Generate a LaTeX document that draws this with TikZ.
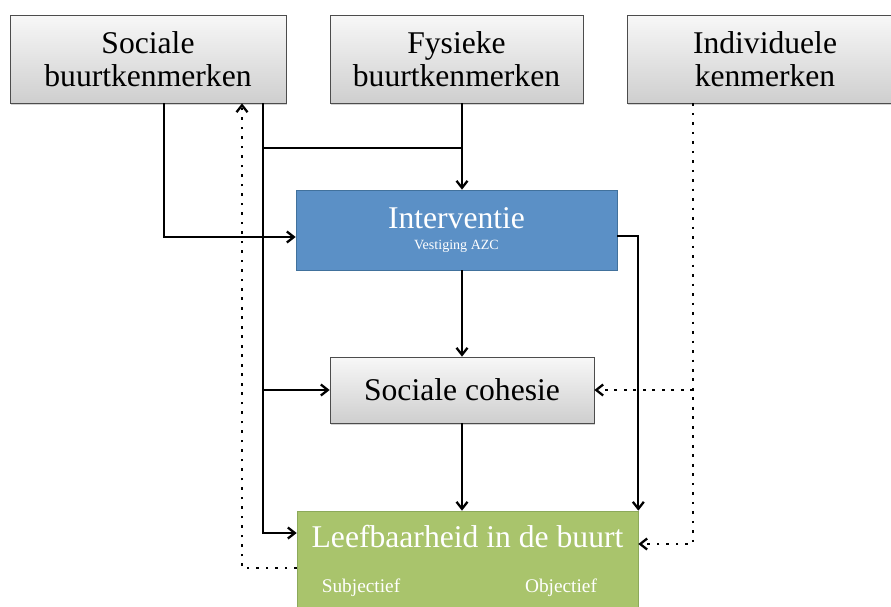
\documentclass[tikz,border=0pt]{standalone}
\usepackage{fontspec}
\setmainfont{Liberation Serif}
\usetikzlibrary{shadows,arrows.meta}
\definecolor{ivblue}{HTML}{5B90C6}
\definecolor{ivblueline}{HTML}{41719C}
\definecolor{lbgreen}{HTML}{A9C46C}
\definecolor{lbgreenline}{HTML}{8CA95A}

\begin{document}
\begin{tikzpicture}[x=0.02cm, y=-0.02cm,
        graybox/.style={draw=black!70, top color=gray!6, bottom color=gray!38,
            drop shadow={shadow xshift=0.6pt, shadow yshift=-0.9pt, opacity=0.35},
            align=center, inner sep=0pt, font=\fontsize{18}{19}\selectfont},
        arr/.style={-{Straight Barb[length=1.4mm, width=2.2mm]}, line width=1.3pt},
        dots/.style={arr, dash pattern=on 1.5pt off 3.9pt}]

        \useasboundingbox (0,0) rectangle (891,606);

        % bovenste rij
        \node[graybox, minimum width=5.52cm, minimum height=1.76cm] (soc) at (148,59) {Sociale\\buurtkenmerken};
        \node[graybox, minimum width=5.06cm, minimum height=1.76cm] (fys) at (456.5,59) {Fysieke\\buurtkenmerken};
        \node[graybox, minimum width=5.52cm, minimum height=1.76cm] (ind) at (765,59) {Individuele\\kenmerken};

        % interventie
        \node[draw=ivblueline, fill=ivblue, text=white, align=center,
            minimum width=6.42cm, minimum height=1.6cm, font=\fontsize{8}{12}\selectfont] (int) at (456.5,230)
            {{\fontsize{18}{12}\selectfont Interventie}\\Vestiging AZC};

        \node[graybox, minimum width=5.28cm, minimum height=1.32cm] (coh) at (462,390) {Sociale cohesie};

        % leefbaarheid
        \node[draw=lbgreenline, fill=lbgreen, minimum width=6.82cm, minimum height=2.28cm] (leef) at (467.5,568) {};
        \node[text=white, font=\fontsize{18}{20}\selectfont] (leef-title) at (467.5,537) {Leefbaarheid in de buurt};
        \node[text=white, font=\fontsize{11}{13}\selectfont] (subj) at (361,588) {Subjectief};
        \node[text=white, font=\fontsize{11}{13}\selectfont] (obj) at (561,588) {Objectief};

        \coordinate (left-drop) at (164,237);
        \coordinate (trunk) at (263,148);
        \coordinate (leef-in) at (263,533);
        \coordinate (ind-drop) at (693,544);
        \coordinate (back) at (242,568);

        % pijlen
        \draw[arr] (soc.south -| left-drop) |- (int.west |- left-drop);
        \draw[arr] (soc.south -| leef-in) |- (leef.west |- leef-in);
        \draw[line width=1.3pt] (trunk) -- (trunk -| coh.north);
        \draw[arr] (trunk |- coh.west) -- (coh.west);
        \draw[arr] (fys.south -| coh.north) -- (int.north -| coh.north);
        \draw[arr] (int.south -| coh.north) -- (coh.north);
        \draw[arr] (coh.south) -- (coh.south |- leef.north);
        \draw[arr] ([yshift=-0.12cm]int.east) -| (leef.north east);

        % stippellijnen
        \draw[dots] (ind.south -| ind-drop) |- (leef.east |- ind-drop);
        \draw[dots] (ind-drop |- coh.east) -- (coh.east);
        \draw[dots] (leef.west |- back) -| (soc.south -| back);

    \end{tikzpicture}
\end{document}
